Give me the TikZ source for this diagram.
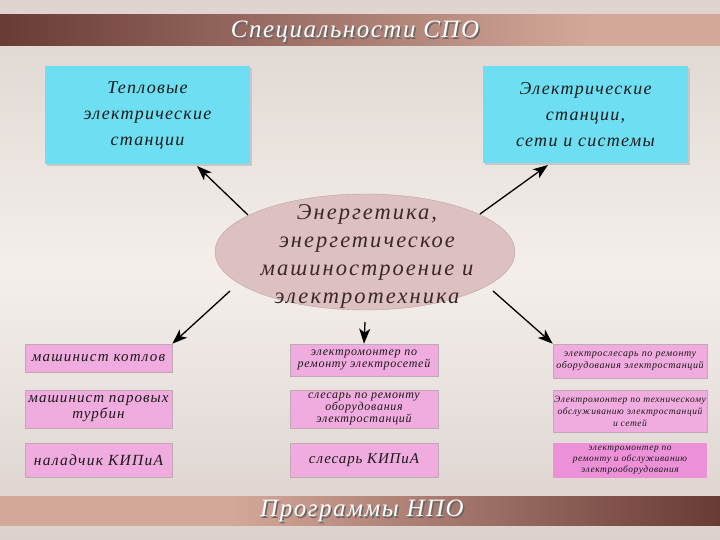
\documentclass[tikz,border=0pt]{standalone}
\usepackage{fontspec}
\setmainfont{Liberation Serif}
\usetikzlibrary{arrows.meta,shapes.geometric}
\definecolor{bgtop}{RGB}{221,212,207}
\definecolor{bgmid}{RGB}{244,239,235}
\definecolor{bgbot}{RGB}{219,209,205}
\definecolor{bandark}{RGB}{106,58,53}
\definecolor{banlight}{RGB}{212,168,153}
\definecolor{cyanbox}{RGB}{110,222,242}
\definecolor{pinkbox}{RGB}{240,172,222}
\definecolor{magbox}{RGB}{236,145,216}
\definecolor{ellfill}{RGB}{221,192,193}
\definecolor{elltext}{RGB}{60,40,40}
\definecolor{boxedge}{RGB}{190,170,180}
\pgfdeclarehorizontalshading{bantop}{100bp}{color(0bp)=(bandark); color(25bp)=(bandark); color(66bp)=(banlight); color(100bp)=(banlight)}
\pgfdeclarehorizontalshading{banbot}{100bp}{color(0bp)=(banlight); color(41bp)=(banlight); color(75bp)=(bandark); color(100bp)=(bandark)}
\tikzset{
  banner text/.style={text=white,font=\itshape\fontsize{25}{25}\selectfont\addfontfeatures{LetterSpace=6}},
  cyanb/.style={fill=cyanbox,draw=none,align=center,text=black!90,
    font=\itshape\fontsize{18}{26}\selectfont\addfontfeatures{LetterSpace=7}},
  pinkb/.style={fill=pinkbox,draw=boxedge,line width=0.6pt,align=center,text=black!90,inner sep=0pt},
  conn/.style={-{Stealth[length=15pt,width=11pt,inset=4pt]},line width=1.3pt,black}
}
\begin{document}
\begin{tikzpicture}[x=1pt,y=-1pt]
\useasboundingbox (0,0) rectangle (720,540);
\shade[top color=bgtop,bottom color=bgmid] (0,0) rectangle (720,270);
\shade[top color=bgmid,bottom color=bgbot] (0,270) rectangle (720,540);
% banners
\shade[shading=bantop] (0,15) rectangle (720,46);
\shade[shading=banbot] (0,496) rectangle (720,525);
\node[banner text,text=black!60] at (356.5,33.5) {Специальности СПО};
\node[banner text] (t1) at (355,32) {Специальности СПО};
\node[banner text,text=black!60] at (363.5,512.5) {Программы НПО};
\node[banner text] (t2) at (362,511) {Программы НПО};
% top boxes
\fill[black!22] (47,68) rectangle (252,166);
\node[cyanb,minimum width=205pt,minimum height=98pt] (tl) at (147.5,115) {Тепловые\\электрические\\станции};
\fill[black!22] (485,68) rectangle (690,165);
\node[cyanb,minimum width=205pt,minimum height=97pt] (tr) at (585.5,114.5) {Электрические\\станции,\\сети и системы};
% ellipse
\node[ellipse,fill=ellfill,draw=ellfill!85!black,line width=0.4pt,minimum width=300pt,minimum height=116pt,
  inner sep=0pt] (c) at (365,252) {};
\node[align=center,text=elltext,inner sep=0pt,
  font=\itshape\fontsize{22.5}{28}\selectfont\addfontfeatures{LetterSpace=9}] (ct) at (367,256)
  {Энергетика,\\энергетическое\\машиностроение и\\электротехника};
% left column
\node[pinkb,minimum width=147pt,minimum height=28pt,font=\itshape\fontsize{15}{16}\selectfont\addfontfeatures{LetterSpace=8}] (l1) at (98.5,358) {машинист котлов};
\node[pinkb,minimum width=147pt,minimum height=38pt,font=\itshape\fontsize{15}{16}\selectfont\addfontfeatures{LetterSpace=7}] (l2) at (98.5,409) {машинист паровых\\турбин};
\node[pinkb,minimum width=147pt,minimum height=34pt,font=\itshape\fontsize{15.5}{16}\selectfont\addfontfeatures{LetterSpace=8}] (l3) at (98.5,460) {наладчик КИПиА};
% middle column
\node[pinkb,minimum width=148pt,minimum height=32pt,font=\itshape\fontsize{12}{12.5}\selectfont\addfontfeatures{LetterSpace=6}] (m1) at (364,360) {электромонтер по\\ремонту электросетей};
\node[pinkb,minimum width=148pt,minimum height=38pt,font=\itshape\fontsize{12}{12}\selectfont\addfontfeatures{LetterSpace=6}] (m2) at (364,409) {слесарь по ремонту\\оборудования\\электростанций};
\node[pinkb,minimum width=148pt,minimum height=34pt,font=\itshape\fontsize{15}{16}\selectfont\addfontfeatures{LetterSpace=6}] (m3) at (364,460) {слесарь КИПиА};
% right column
\node[pinkb,minimum width=154pt,minimum height=34pt,font=\itshape\fontsize{10}{12}\selectfont\addfontfeatures{LetterSpace=6}] (r1) at (630,361) {электрослесарь по ремонту\\оборудования электростанций};
\node[pinkb,minimum width=154pt,minimum height=42pt,font=\itshape\fontsize{9.5}{12}\selectfont\addfontfeatures{LetterSpace=6}] (r2) at (630,411) {Электромонтер по техническому\\обслуживанию электростанций\\и сетей};
\node[pinkb,fill=magbox,draw=none,minimum width=154pt,minimum height=35pt,font=\itshape\fontsize{9.4}{11}\selectfont\addfontfeatures{LetterSpace=6}] (r3) at (630,460.5) {электромонтер по\\ремонту и обслуживанию\\электрооборудования};
% connectors
\coordinate (a1) at (248,215);
\coordinate (a2) at (480,214);
\coordinate (a3) at (230,291);
\coordinate (a4) at (365,322);
\coordinate (a5) at (493,291);
\coordinate (b1) at (197,166);
\coordinate (b2) at (548,165);
\draw[conn] (a1) -- (b1);
\draw[conn] (a2) -- (b2);
\draw[conn] (a3) -- (l1.north east);
\draw[conn] (a4) -- (m1.north);
\draw[conn] (a5) -- (r1.north west);
\end{tikzpicture}
\end{document}
